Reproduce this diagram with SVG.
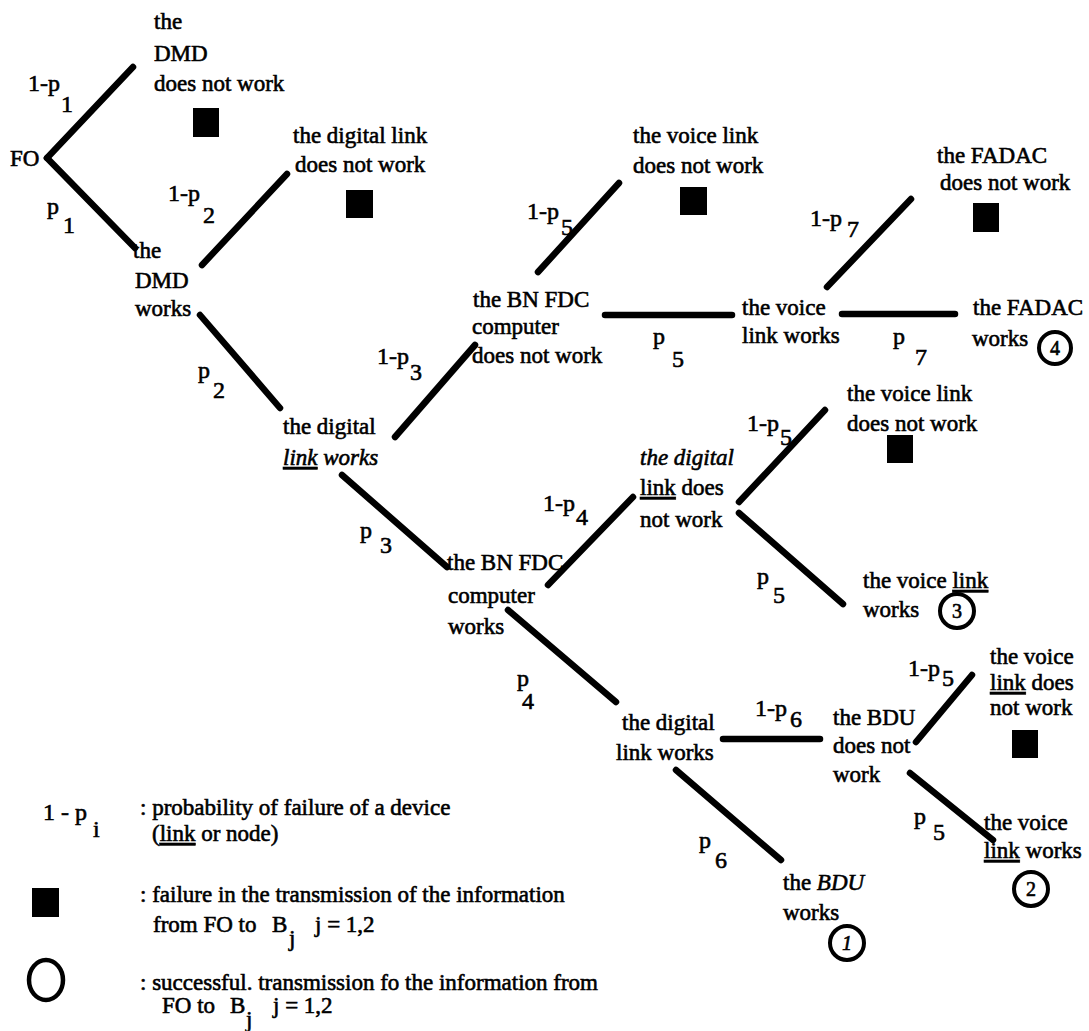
<svg xmlns="http://www.w3.org/2000/svg" width="1089" height="1031" viewBox="0 0 1089 1031">
<style>
text{font-family:"Liberation Serif","Times New Roman",serif;font-size:23px;fill:#000;stroke:#000;stroke-width:0.6}
.lb{font-size:24px}
.it{font-style:italic}
.u{text-decoration:underline}
.br{stroke:#000;stroke-width:6.5;stroke-linecap:round;fill:none}
.sq{fill:#000}
.ci{fill:none;stroke:#000;stroke-width:4}
.num{font-size:20px;text-anchor:middle}
</style>
<rect width="1089" height="1031" fill="#fff"/>
<g id="connectors">
<line class="br" x1="47" y1="158" x2="133" y2="67"/>
<line class="br" x1="47" y1="158" x2="135" y2="248"/>
<line class="br" x1="202" y1="265" x2="287" y2="174"/>
<line class="br" x1="200" y1="315" x2="280" y2="408"/>
<line class="br" x1="395" y1="437" x2="475" y2="345"/>
<line class="br" x1="342" y1="475" x2="447" y2="567"/>
<line class="br" x1="538" y1="272" x2="619" y2="183"/>
<line class="br" x1="605" y1="315" x2="732" y2="315"/>
<line class="br" x1="827" y1="287" x2="911" y2="199"/>
<line class="br" x1="842" y1="314" x2="955" y2="314"/>
<line class="br" x1="548" y1="585" x2="633" y2="497"/>
<line class="br" x1="739" y1="502" x2="825" y2="410"/>
<line class="br" x1="739" y1="513" x2="843" y2="604"/>
<line class="br" x1="508" y1="610" x2="616" y2="702"/>
<line class="br" x1="723" y1="739" x2="820" y2="739"/>
<line class="br" x1="676" y1="770" x2="781" y2="860"/>
<line class="br" x1="916" y1="742" x2="972" y2="675"/>
<line class="br" x1="910" y1="773" x2="993" y2="840"/>
</g>
<g id="labels">
<text class="lb" x="28" y="91">1-p</text><text class="lb" x="61" y="112">1</text>
<text class="lb" x="47" y="214">p</text><text class="lb" x="63" y="233">1</text>
<text class="lb" x="168" y="201">1-p</text><text class="lb" x="203" y="223">2</text>
<text class="lb" x="198" y="378">p</text><text class="lb" x="213" y="398">2</text>
<text class="lb" x="377" y="364">1-p</text><text class="lb" x="410" y="380">3</text>
<text class="lb" x="360" y="538">p</text><text class="lb" x="380" y="553">3</text>
<text class="lb" x="527" y="219">1-p</text><text class="lb" x="561" y="235">5</text>
<text class="lb" x="653" y="344">p</text><text class="lb" x="672" y="367">5</text>
<text class="lb" x="810" y="226">1-p</text><text class="lb" x="847" y="237">7</text>
<text class="lb" x="893" y="344">p</text><text class="lb" x="915" y="365">7</text>
<text class="lb" x="543" y="511">1-p</text><text class="lb" x="576" y="525">4</text>
<text class="lb" x="747" y="431">1-p</text><text class="lb" x="780" y="445">5</text>
<text class="lb" x="757" y="584">p</text><text class="lb" x="773" y="603">5</text>
<text class="lb" x="517" y="686">p</text><text class="lb" x="522" y="709">4</text>
<text class="lb" x="755" y="716">1-p</text><text class="lb" x="790" y="727">6</text>
<text class="lb" x="908" y="676">1-p</text><text class="lb" x="942" y="686">5</text>
<text class="lb" x="914" y="824">p</text><text class="lb" x="933" y="840">5</text>
<text class="lb" x="699" y="848">p</text><text class="lb" x="715" y="868">6</text>
</g>
<g id="n-fo"><text x="10" y="166">FO</text></g>
<g id="n-dmd-fail"><text x="154" y="29">the</text><text x="154" y="61">DMD</text><text x="154" y="91">does not work</text><rect class="sq" x="193" y="108" width="26" height="29"/></g>
<g id="n-dmd-ok"><text x="133" y="258">the</text><text x="135" y="288">DMD</text><text x="135" y="316">works</text></g>
<g id="n-dl-fail"><text x="293" y="143">the digital link</text><text x="295" y="172">does not work</text><rect class="sq" x="346" y="190" width="27" height="28"/></g>
<g id="n-dl-ok"><text x="283" y="434">the digital</text><text x="283" y="465"><tspan class="it u">link</tspan><tspan class="it"> works</tspan></text></g>
<g id="n-bn-fail"><text x="473" y="307">the BN FDC</text><text x="472" y="334">computer</text><text x="472" y="363">does not work</text></g>
<g id="n-vl-fail-1"><text x="633" y="143">the voice link</text><text x="633" y="173">does not work</text><rect class="sq" x="680" y="187" width="27" height="28"/></g>
<g id="n-vl-ok-1"><text x="742" y="315">the voice</text><text x="742" y="343">link works</text></g>
<g id="n-fadac-fail"><text x="937" y="163">the FADAC</text><text x="940" y="190">does not work</text><rect class="sq" x="973" y="203" width="26" height="29"/></g>
<g id="n-fadac-ok"><text x="973" y="315">the FADAC</text><text x="972" y="346">works</text><circle class="ci" cx="1055" cy="348" r="16"/><text class="num" x="1055" y="355">4</text></g>
<g id="n-bn-ok"><text x="447" y="570">the BN FDC</text><text x="448" y="603">computer</text><text x="448" y="634">works</text></g>
<g id="n-dl-fail-2"><text class="it" x="640" y="465">the digital</text><text x="640" y="495"><tspan class="u">link</tspan> does</text><text x="640" y="527">not work</text></g>
<g id="n-vl-fail-2"><text x="847" y="401">the voice link</text><text x="847" y="431">does not work</text><rect class="sq" x="887" y="435" width="26" height="28"/></g>
<g id="n-vl-ok-3"><text x="863" y="588">the voice <tspan class="u">link</tspan></text><text x="863" y="617">works</text><circle class="ci" cx="957" cy="611" r="17"/><text class="num" x="957" y="618">3</text></g>
<g id="n-dl-ok-2"><text x="622" y="730">the digital</text><text x="616" y="760">link works</text></g>
<g id="n-bdu-fail"><text x="833" y="725">the BDU</text><text x="833" y="753">does not</text><text x="833" y="782">work</text></g>
<g id="n-vl-fail-3"><text x="990" y="664">the voice</text><text x="990" y="690"><tspan class="u">link</tspan> does</text><text x="990" y="715">not work</text><rect class="sq" x="1012" y="730" width="26" height="28"/></g>
<g id="n-vl-ok-2"><text x="984" y="830">the voice</text><text x="984" y="858"><tspan class="u">link</tspan> works</text><circle class="ci" cx="1031" cy="889" r="17"/><text class="num" x="1031" y="896">2</text></g>
<g id="n-bdu-ok"><text x="783" y="890">the <tspan class="it">BDU</tspan></text><text x="783" y="920">works</text><circle class="ci" cx="847" cy="943" r="17"/><text class="num it" x="847" y="950">1</text></g>
<g id="legend">
<text class="lb" x="43" y="820">1 - p</text><text class="lb" x="93" y="837">i</text>
<text x="140" y="815">: probability of failure of a device</text>
<text x="152" y="841">(<tspan class="u">link</tspan> or node)</text>
<rect class="sq" x="32" y="888" width="27" height="29"/>
<text x="140" y="902">: failure in the transmission of the information</text>
<text x="153" y="932">from FO to</text><text x="272" y="932">B</text><text x="289" y="946">j</text><text x="315" y="932">j = 1,2</text>
<ellipse cx="46" cy="980" rx="17" ry="20" fill="none" stroke="#000" stroke-width="4.5"/>
<text x="140" y="990">:  successful. transmission fo the information from</text>
<text x="162" y="1013">FO to</text><text x="230" y="1013">B</text><text x="246" y="1027">j</text><text x="273" y="1013">j = 1,2</text>
</g>
</svg>
